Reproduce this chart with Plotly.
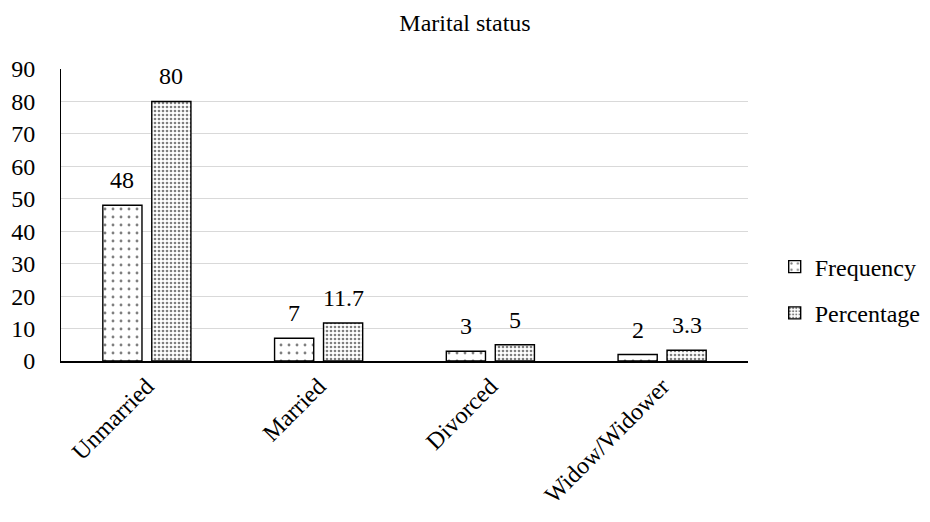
import plotly.graph_objects as go

categories = ["Unmarried", "Married", "Divorced", "Widow/Widower"]
frequency = [48, 7, 3, 2]
percentage = [80, 11.7, 5, 3.3]
freq_labels = ["48", "7", "3", "2"]
pct_labels = ["80", "11.7", "5", "3.3"]

FONT = "Liberation Serif"
W, H = 930, 522
M_L, M_R, M_T, M_B = 61, 182, 69, 161
BARGAP, GROUPGAP = 0.43, 0.20

fig = go.Figure()
fig.add_trace(go.Bar(
    name="Frequency", x=categories, y=frequency, legendgroup="f",
    marker=dict(color="white", line=dict(color="black", width=1.4),
                pattern=dict(shape=".", size=8, solidity=0.1,
                             fgcolor="black", bgcolor="white")),
))
fig.add_trace(go.Bar(
    name="Percentage", x=categories, y=percentage, legendgroup="p",
    marker=dict(color="white", line=dict(color="black", width=1.4),
                pattern=dict(shape=".", size=4, solidity=0.35,
                             fgcolor="black", bgcolor="white")),
))

# value labels above each bar, offset within the group
cat_px = (W - M_L - M_R) / len(categories)
slot = cat_px * (1 - BARGAP) / 2
for vals, labels, sign in ((frequency, freq_labels, -1), (percentage, pct_labels, 1)):
    for c, v, t in zip(categories, vals, labels):
        fig.add_annotation(x=c, y=v, text=t, showarrow=False,
                           xshift=sign * slot / 2, yshift=25, yanchor="middle",
                           font=dict(family=FONT, size=24, color="black"))

fig.update_layout(
    width=W, height=H,
    paper_bgcolor="white", plot_bgcolor="white",
    margin=dict(l=M_L, r=M_R, t=M_T, b=M_B, autoexpand=False),
    barmode="group", bargap=BARGAP, bargroupgap=GROUPGAP,
    font=dict(family=FONT, size=24, color="black"),
    title=dict(text="Marital status", x=0.5, xanchor="center",
               y=0.956, yanchor="middle",
               font=dict(family=FONT, size=24, color="black")),
    legend=dict(xref="container", x=0.833, xanchor="left",
                y=0.243, yanchor="middle",
                font=dict(family=FONT, size=24, color="black"),
                itemwidth=30, tracegroupgap=12, traceorder="grouped"),
    showlegend=True,
)
fig.update_xaxes(
    tickangle=-45, showline=True, linecolor="black", linewidth=1.5,
    ticks="", automargin=False,
    tickfont=dict(family=FONT, size=24, color="black"),
)
fig.update_yaxes(
    range=[0, 90], dtick=10, showgrid=True, gridcolor="#d9d9d9", gridwidth=1,
    showline=True, linecolor="black", linewidth=1, ticks="",
    ticklabelstandoff=20, automargin=False,
    zeroline=False, tickfont=dict(family=FONT, size=24, color="black"),
)

fig.write_html("out.html")
